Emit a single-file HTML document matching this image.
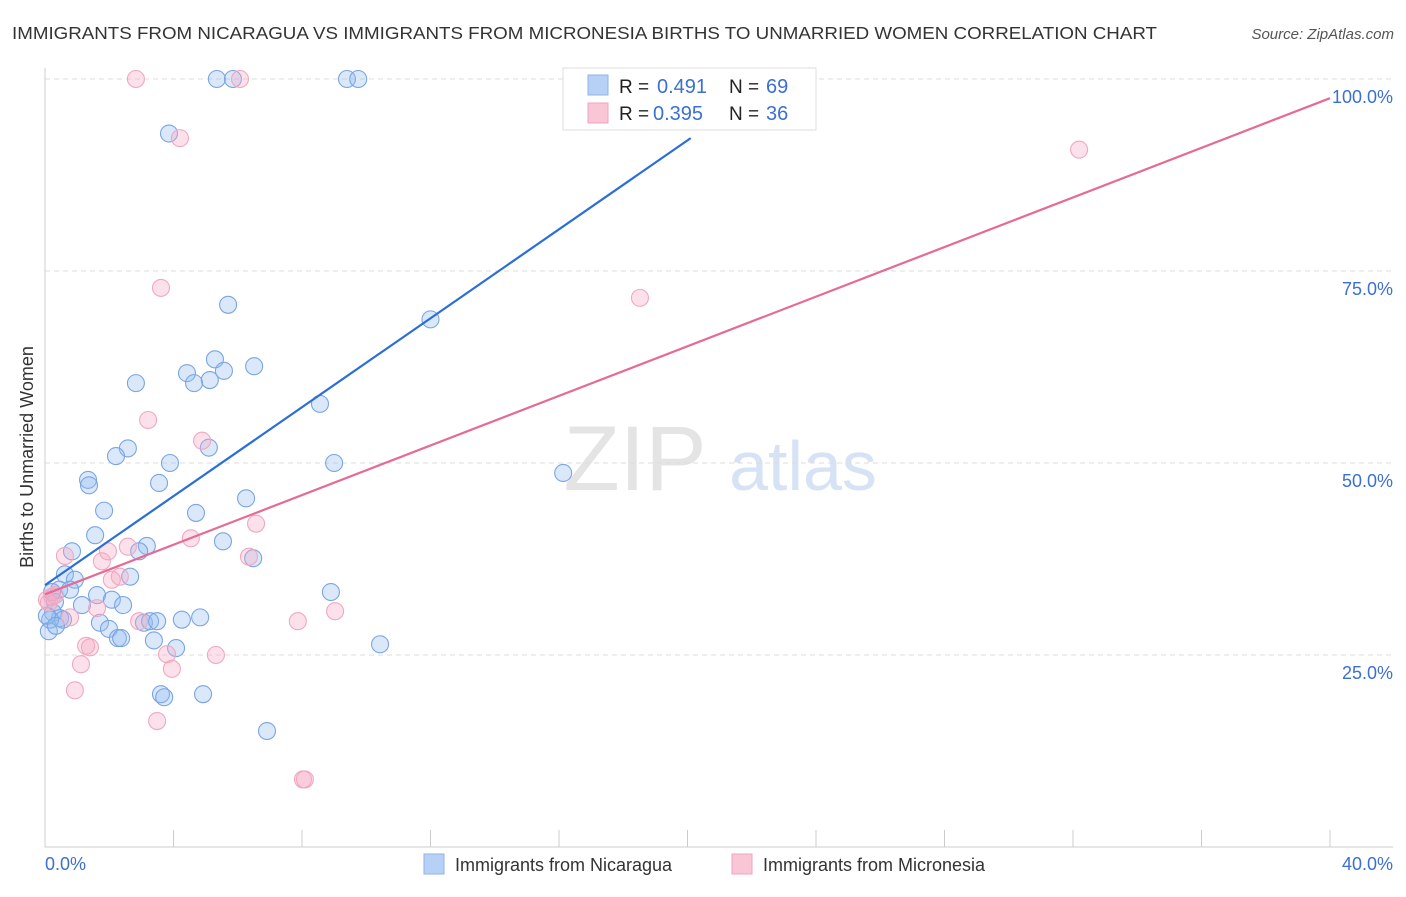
<!DOCTYPE html>
<html><head><meta charset="utf-8"><style>
body{margin:0;background:#fff;font-family:"Liberation Sans",sans-serif;}
svg text{font-family:"Liberation Sans",sans-serif;}
</style></head><body>
<svg id="chart" width="1406" height="892">
<text x="12" y="39" font-size="17.5" fill="#333" textLength="1145" lengthAdjust="spacingAndGlyphs">IMMIGRANTS FROM NICARAGUA VS IMMIGRANTS FROM MICRONESIA BIRTHS TO UNMARRIED WOMEN CORRELATION CHART</text>
<text x="1394" y="39" font-size="15" font-style="italic" fill="#555" text-anchor="end">Source: ZipAtlas.com</text>
<text x="33" y="457" font-size="18" fill="#333" text-anchor="middle" transform="rotate(-90 33 457)">Births to Unmarried Women</text>
<g><text x="635" y="490" font-size="92" font-family="Liberation Serif" fill="#e4e4e4" text-anchor="middle">ZIP</text><text x="803" y="490" font-size="70" fill="#d6e3f5" text-anchor="middle">atlas</text></g>
<g id="grid"></g><g id="axes"></g><g id="pts"></g><g id="lines"></g>
<g>
<rect x="563" y="68" width="253" height="62" fill="#fff" stroke="#ddd"/>
<rect x="588" y="75" width="20" height="20" fill="#b7d0f5" stroke="#8fb3ea"/>
<rect x="588" y="103" width="20" height="20" fill="#f9c6d6" stroke="#f0a3bd"/>
<text x="619" y="93" font-size="19" fill="#222">R =</text><text x="657" y="93" font-size="20" fill="#3b6fd4">0.491</text>
<text x="729" y="93" font-size="19" fill="#222">N =</text><text x="766" y="93" font-size="20" fill="#3b6fd4">69</text>
<text x="619" y="120" font-size="19" fill="#222">R =</text><text x="653" y="120" font-size="20" fill="#3b6fd4">0.395</text>
<text x="729" y="120" font-size="19" fill="#222">N =</text><text x="766" y="120" font-size="20" fill="#3b6fd4">36</text>
</g>
<g>
<rect x="424" y="854" width="20" height="20" fill="#b7d0f5" stroke="#8fb3ea"/>
<text x="455" y="871" font-size="18" fill="#333">Immigrants from Nicaragua</text>
<rect x="732" y="854" width="20" height="20" fill="#f9c6d6" stroke="#f0a3bd"/>
<text x="763" y="871" font-size="18" fill="#333">Immigrants from Micronesia</text>
</g>
</svg>
<script>
const yTicks=[25,50,75,100];
const yTickLabels=["25.0%","50.0%","75.0%","100.0%"];
const xTickCount=10;
const xLabels=["0.0%","40.0%"];
const blueX=[5.35,5.85,9.4,9.75,16.9,3.86,5.7,12.0,2.83,4.42,4.64,5.13,5.29,5.57,6.51,8.56,2.58,2.21,3.89,5.1,9.0,3.55,1.34,1.37,16.13,1.84,4.7,6.26,1.56,0.84,3.17,2.93,5.54,6.48,0.62,0.93,2.65,0.44,0.78,0.22,0.31,1.15,1.62,2.08,2.43,8.9,0.25,0.47,0.56,0.16,1.71,3.08,3.27,3.49,4.26,4.83,4.08,10.43,1.99,2.27,2.37,3.39,3.61,3.71,4.92,6.91,0.06,0.12,0.34];
const blueY=[100,100,100,100,100,92.9,70.6,68.7,60.4,61.7,60.4,60.8,63.5,62.0,62.6,57.7,51.9,50.9,50.0,52.0,50.0,47.4,47.8,47.1,48.7,43.8,43.5,45.4,40.6,38.5,39.2,38.5,39.8,37.6,35.5,34.8,35.2,33.5,33.5,33.2,31.9,31.5,32.8,32.2,31.5,33.2,30.5,29.8,29.6,29.6,29.2,29.2,29.4,29.4,29.6,29.9,25.9,26.4,28.4,27.2,27.2,26.9,19.9,19.5,19.9,15.1,30.1,28.1,28.8];
const pinkX=[2.83,6.07,4.2,32.19,3.61,18.52,3.21,4.89,6.57,4.54,6.35,2.58,1.96,1.77,2.33,0.62,0.22,0.12,1.62,9.03,7.87,2.93,0.78,1.28,1.4,3.8,5.32,1.12,3.95,0.93,3.49,8.03,8.09,0.06,0.31,2.08];
const pinkY=[100,100,92.3,90.8,72.8,71.5,55.6,52.9,42.1,40.2,37.8,39.1,38.5,37.2,35.2,37.9,32.6,31.8,31.1,30.7,29.4,29.4,29.9,26.2,26.0,25.1,25.0,23.8,23.2,20.4,16.4,8.8,8.8,32.2,32.8,34.8];
const blueFit=[0,34.1,20.1,92.3];
const pinkFit=[0,32.9,40,97.5];
const X=v=>45+v*32.125, Y=v=>847-v*7.68;
const NS="http://www.w3.org/2000/svg";
function mk(parent,tag,attrs){const e=document.createElementNS(NS,tag);for(const k in attrs)e.setAttribute(k,attrs[k]);document.getElementById(parent).appendChild(e);return e;}
yTicks.forEach((t,i)=>{
 const g=mk('grid','line',{x1:45,x2:1393,y1:Y(t),y2:Y(t),stroke:'#ddd','stroke-dasharray':'5,4'});
 
 
 const l=mk('grid','text',{x:1393,y:Y(t)+24,'font-size':18,fill:'#3b6fd4','text-anchor':'end'});
 l.textContent=yTickLabels[i];
 
 
});
const ax=mk('axes','path',{d:'M45 68V847H1393',stroke:'#ccc',fill:'none'});


for(let i=1;i<=xTickCount;i++){const t=mk('axes','line',{x1:X(i*4),x2:X(i*4),y1:830,y2:847,stroke:'#ccc'});
 
 }
const xl0=mk('axes','text',{x:45,y:870,'font-size':18,fill:'#3b6fd4'});xl0.textContent=xLabels[0];


const xl1=mk('axes','text',{x:1393,y:870,'font-size':18,fill:'#3b6fd4','text-anchor':'end'});xl1.textContent=xLabels[1];


blueX.forEach((v,i)=>{const c=mk('pts','circle',{cx:X(v),cy:Y(blueY[i]),r:8.5,fill:'rgba(150,188,240,0.35)',stroke:'#7aa5e4','stroke-width':1.1});
 
 });
pinkX.forEach((v,i)=>{const c=mk('pts','circle',{cx:X(v),cy:Y(pinkY[i]),r:8.5,fill:'rgba(245,170,195,0.35)',stroke:'#f0a8c0','stroke-width':1.1});
 
 });
const bl=mk('lines','line',{x1:X(blueFit[0]),y1:Y(blueFit[1]),x2:X(blueFit[2]),y2:Y(blueFit[3]),stroke:'#2b6fd6','stroke-width':2.2});


const pl=mk('lines','line',{x1:X(pinkFit[0]),y1:Y(pinkFit[1]),x2:X(pinkFit[2]),y2:Y(pinkFit[3]),stroke:'#e56b94','stroke-width':2.2});


</script>
</body></html>
